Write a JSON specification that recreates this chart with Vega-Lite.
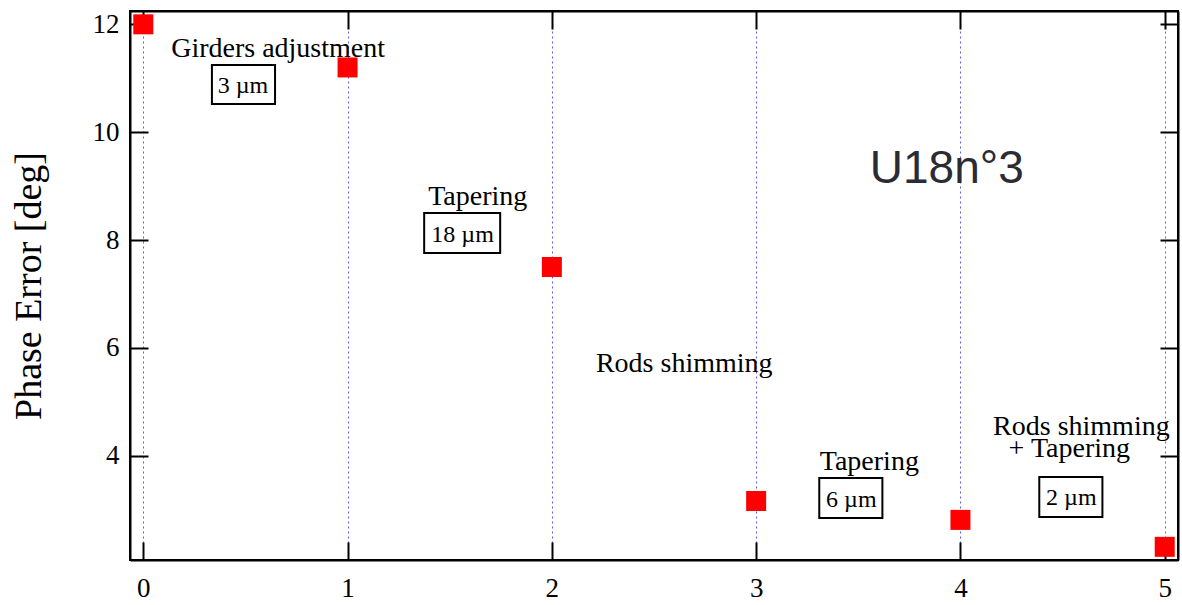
{
  "$schema": "https://vega.github.io/schema/vega-lite/v6.json",
  "autosize": "none",
  "width": 1048,
  "height": 549,
  "padding": {"left": 130, "top": 11, "right": 4, "bottom": 45},
  "background": "white",
  "config": {
    "view": {"stroke": "black", "strokeWidth": 2},
    "font": "Liberation Serif"
  },
  "datasets": {
    "points": [
      {"step": 0, "phase": 12.0},
      {"step": 1, "phase": 11.2},
      {"step": 2, "phase": 7.5},
      {"step": 3, "phase": 3.16},
      {"step": 4, "phase": 2.81},
      {"step": 5, "phase": 2.31}
    ],
    "labels": [
      {"x": 0.660, "y": 11.394, "text": "Girders adjustment"},
      {"x": 1.637, "y": 8.649, "text": "Tapering"},
      {"x": 2.648, "y": 5.553, "text": "Rods shimming"},
      {"x": 3.554, "y": 3.736, "text": "Tapering"},
      {"x": 4.592, "y": 4.385, "text": "Rods shimming"},
      {"x": 4.533, "y": 3.977, "text": "+ Tapering"}
    ],
    "boxlabels": [
      {"x": 0.488, "y": 10.726, "text": "3 µm"},
      {"x": 1.563, "y": 7.963, "text": "18 µm"},
      {"x": 3.466, "y": 3.049, "text": "6 µm"},
      {"x": 4.543, "y": 3.087, "text": "2 µm"}
    ],
    "boxes": [
      {"x": 0.336, "x2": 0.645, "y": 11.245, "y2": 10.522},
      {"x": 1.375, "x2": 1.747, "y": 8.501, "y2": 7.759},
      {"x": 3.309, "x2": 3.618, "y": 3.587, "y2": 2.846},
      {"x": 4.386, "x2": 4.695, "y": 3.606, "y2": 2.864}
    ],
    "title": [
      {"x": 3.933, "y": 9.057, "text": "U18n°3"}
    ]
  },
  "layer": [
    {
      "data": {"name": "points"},
      "mark": {"type": "point", "opacity": 0},
      "encoding": {
        "x": {
          "field": "step", "type": "quantitative",
          "scale": {"domain": [-0.065, 5.065], "nice": false, "zero": false},
          "axis": {
            "orient": "bottom", "values": [0, 1, 2, 3, 4, 5], "format": "d",
            "title": null,
            "domainColor": "black", "domainWidth": 2,
            "tickColor": "black", "tickWidth": 2, "tickSize": -18,
            "labelFont": "Liberation Serif", "labelFontSize": 27, "labelColor": "black", "labelPadding": 33,
            "grid": true, "gridColor": "#5c5cff", "gridDash": [2, 3], "gridWidth": 1, "gridOpacity": 1
          }
        },
        "y": {
          "field": "phase", "type": "quantitative",
          "scale": {"domain": [2.066, 12.247], "nice": false, "zero": false},
          "axis": {
            "orient": "left", "values": [4, 6, 8, 10, 12], "format": "d",
            "grid": false,
            "domainColor": "black", "domainWidth": 2,
            "tickColor": "black", "tickWidth": 2, "tickSize": -18,
            "labelFont": "Liberation Serif", "labelFontSize": 27, "labelColor": "black", "labelPadding": 29,
            "title": "Phase Error [deg]", "titleFont": "Liberation Serif", "titleFontWeight": "normal",
            "titleColor": "black", "titleFontSize": 38, "titlePadding": 44
          }
        }
      }
    },
    {
      "data": {"name": "points"},
      "mark": {"type": "point", "opacity": 0},
      "encoding": {
        "x": {
          "field": "step", "type": "quantitative",
          "axis": {
            "orient": "top", "values": [0, 1, 2, 3, 4, 5], "labels": false, "title": null, "grid": false,
            "domainColor": "black", "domainWidth": 2,
            "tickColor": "black", "tickWidth": 2, "tickSize": -18
          }
        },
        "y": {
          "field": "phase", "type": "quantitative",
          "axis": {
            "orient": "right", "values": [4, 6, 8, 10, 12], "labels": false, "title": null, "grid": false,
            "domainColor": "black", "domainWidth": 2,
            "tickColor": "black", "tickWidth": 2, "tickSize": -18
          }
        }
      }
    },
    {
      "data": {"name": "boxes"},
      "mark": {"type": "rect", "fill": "white", "stroke": "black", "strokeWidth": 2},
      "encoding": {
        "x": {"field": "x", "type": "quantitative", "axis": null},
        "x2": {"field": "x2"},
        "y": {"field": "y", "type": "quantitative", "axis": null},
        "y2": {"field": "y2"}
      }
    },
    {
      "data": {"name": "points"},
      "mark": {"type": "point", "shape": "square", "filled": true, "color": "#ff0000", "opacity": 1, "size": 400, "strokeWidth": 0},
      "encoding": {
        "x": {"field": "step", "type": "quantitative", "axis": null},
        "y": {"field": "phase", "type": "quantitative", "axis": null}
      }
    },
    {
      "data": {"name": "labels"},
      "mark": {"type": "text", "font": "Liberation Serif", "fontSize": 28, "color": "black", "align": "center", "baseline": "alphabetic"},
      "encoding": {
        "x": {"field": "x", "type": "quantitative", "axis": null},
        "y": {"field": "y", "type": "quantitative", "axis": null},
        "text": {"field": "text"}
      }
    },
    {
      "data": {"name": "boxlabels"},
      "mark": {"type": "text", "font": "Liberation Serif", "fontSize": 24, "color": "black", "align": "center", "baseline": "alphabetic"},
      "encoding": {
        "x": {"field": "x", "type": "quantitative", "axis": null},
        "y": {"field": "y", "type": "quantitative", "axis": null},
        "text": {"field": "text"}
      }
    },
    {
      "data": {"name": "title"},
      "mark": {"type": "text", "font": "Liberation Sans", "fontSize": 46, "color": "#2b2b33", "align": "center", "baseline": "alphabetic"},
      "encoding": {
        "x": {"field": "x", "type": "quantitative", "axis": null},
        "y": {"field": "y", "type": "quantitative", "axis": null},
        "text": {"field": "text"}
      }
    }
  ],
  "resolve": {"axis": {"x": "independent", "y": "independent"}}
}
